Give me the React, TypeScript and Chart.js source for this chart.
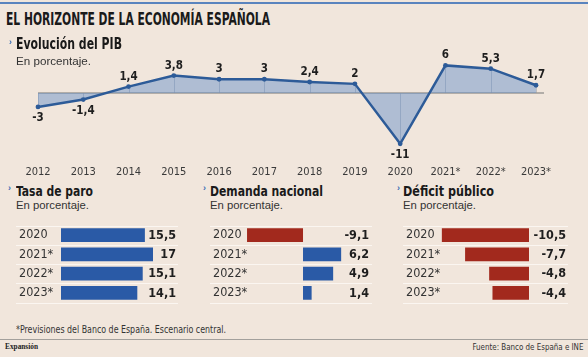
import React, { useEffect, useLayoutEffect, useRef } from "react";
import { Chart, registerables } from "chart.js";

Chart.register(...registerables);

// ---------- DATA ----------
const pibYears = ["2012", "2013", "2014", "2015", "2016", "2017", "2018", "2019", "2020", "2021*", "2022*", "2023*"];
const pibValues = [-3, -1.4, 1.4, 3.8, 3, 3, 2.4, 2, -11, 6, 5.3, 1.7];

const barYears = ["2020", "2021*", "2022*", "2023*"];
const paroValues = [15.5, 17, 15.1, 14.1];
const demandaValues = [-9.1, 6.2, 4.9, 1.4];
const deficitValues = [-10.5, -7.7, -4.8, -4.4];

// ---------- STYLE ----------
const BG = "#f1e6dc";
const NARROW = '"Liberation Sans Narrow", "DejaVu Sans Condensed", "Roboto Condensed", "Arial Narrow", sans-serif';
const SANS = '"Liberation Sans", Arial, sans-serif';
const LINE = "#2d5b98";
const FILL = "rgba(95,140,200,0.45)";
const BLUE = "#2a5aa6";
const RED = "#a2291d";
const TEXT = "#1e1e1e";
const MARK = "#3d6fb4";

const fmt = (v: number) => String(v).replace(".", ",");

type FitProps = {
  text: string;
  x: number;
  y: number;
  size: number;
  weight?: number | string;
  family?: string;
  color?: string;
  width?: number;
  align?: "left" | "right";
};

function FitText({ text, x, y, size, weight = 400, family = SANS, color = TEXT, width, align = "left" }: FitProps) {
  const ref = useRef<HTMLSpanElement>(null);
  useLayoutEffect(() => {
    const el = ref.current;
    if (!el || !width) return;
    const fit = () => {
      el.style.transform = "none";
      const w = el.getBoundingClientRect().width;
      if (w > 0) el.style.transform = `scaleX(${width / w})`;
    };
    fit();
    if ((document as any).fonts && (document as any).fonts.ready) {
      (document as any).fonts.ready.then(fit);
    }
  }, [width]);
  const style: React.CSSProperties = {
    position: "absolute",
    top: y,
    whiteSpace: "nowrap",
    fontFamily: family,
    fontSize: size,
    fontWeight: weight as any,
    lineHeight: `${size}px`,
    color,
    transformOrigin: align === "right" ? "right top" : "left top",
  };
  if (align === "right") style.right = 588 - x;
  else style.left = x;
  return (
    <span ref={ref} style={style}>
      {text}
    </span>
  );
}

function Marker({ x, y }: { x: number; y: number }) {
  return (
    <span
      style={{
        position: "absolute",
        left: x,
        top: y,
        fontFamily: SANS,
        fontWeight: 700,
        fontSize: 9,
        lineHeight: "9px",
        color: MARK,
      }}
    >
      ›
    </span>
  );
}

function PibChart() {
  const ref = useRef<HTMLCanvasElement>(null);
  useEffect(() => {
    if (!ref.current) return;
    const pibPlugin = {
      id: "pibExtras",
      beforeDatasetsDraw(chart: any) {
        const { ctx, chartArea, scales } = chart;
        const y0 = scales.y.getPixelForValue(0);
        const meta = chart.getDatasetMeta(0);
        ctx.save();
        ctx.strokeStyle = "rgba(130,140,155,0.45)";
        ctx.lineWidth = 1;
        meta.data.forEach((pt: any) => {
          ctx.beginPath();
          ctx.moveTo(Math.round(pt.x) + 0.5, pt.y);
          ctx.lineTo(Math.round(pt.x) + 0.5, y0);
          ctx.stroke();
        });
        ctx.strokeStyle = "#9d9a97";
        ctx.lineWidth = 1.5;
        ctx.beginPath();
        ctx.moveTo(chartArea.left, y0);
        ctx.lineTo(chartArea.right + 8, y0);
        ctx.stroke();
        ctx.restore();
      },
      afterDatasetsDraw(chart: any) {
        const { ctx } = chart;
        const meta = chart.getDatasetMeta(0);
        ctx.save();
        ctx.font = `bold 11.5px ${NARROW}`;
        ctx.fillStyle = TEXT;
        ctx.textAlign = "center";
        ctx.textBaseline = "middle";
        meta.data.forEach((pt: any, i: number) => {
          const v = pibValues[i];
          const y = v >= 0 ? pt.y - 10 : pt.y + 11;
          ctx.fillText(fmt(v), pt.x, y);
        });
        ctx.restore();
      },
    };
    const chart = new Chart(ref.current, {
      type: "line",
      data: {
        labels: pibYears,
        datasets: [
          {
            data: pibValues,
            borderColor: LINE,
            borderWidth: 2.5,
            backgroundColor: FILL,
            fill: "origin",
            pointRadius: 2.4,
            pointBackgroundColor: LINE,
            pointBorderWidth: 0,
            tension: 0,
          },
        ],
      },
      options: {
        responsive: false,
        animation: false,
        events: [],
        layout: { padding: { left: 38, right: 52, top: 16.2, bottom: 0 } },
        plugins: { legend: { display: false }, tooltip: { enabled: false } },
        scales: {
          x: {
            offset: false,
            grid: { display: false, drawTicks: false },
            border: { display: false },
            ticks: {
              padding: 12.6,
              font: { family: NARROW, size: 11 },
              color: "#3a3a3a",
              maxRotation: 0,
              autoSkip: false,
            },
            afterFit(scale: any) {
              scale.height = 26;
            },
          },
          y: { display: false, min: -13, max: 8 },
        },
      },
      plugins: [pibPlugin],
    } as any);
    return () => chart.destroy();
  }, []);
  return (
    <canvas
      ref={ref}
      width={588}
      height={139}
      style={{ position: "absolute", left: 0, top: 40, width: 588, height: 139 }}
    />
  );
}

type BarProps = {
  values: number[];
  left: number;
  top: number;
  width: number;
  height: number;
  min: number;
  max: number;
  padRight: number;
  axisWidth: number;
  valueInset: number;
};

function BarPanel({ values, left, top, width, height, min, max, padRight, axisWidth, valueInset }: BarProps) {
  const ref = useRef<HTMLCanvasElement>(null);
  useEffect(() => {
    if (!ref.current) return;
    const barPlugin = {
      id: "barExtras",
      beforeDatasetsDraw(chart: any) {
        const { ctx, chartArea } = chart;
        const n = barYears.length;
        const step = (chartArea.bottom - chartArea.top) / n;
        ctx.save();
        ctx.strokeStyle = "#fbf6f1";
        ctx.lineWidth = 1;
        for (let i = 0; i <= n; i++) {
          const y = Math.round(chartArea.top + i * step) + 0.5;
          ctx.beginPath();
          ctx.moveTo(0, y);
          ctx.lineTo(chart.width, y);
          ctx.stroke();
        }
        ctx.restore();
      },
      afterDatasetsDraw(chart: any) {
        const { ctx } = chart;
        const meta = chart.getDatasetMeta(0);
        ctx.save();
        ctx.font = `bold 12.5px ${NARROW}`;
        ctx.fillStyle = TEXT;
        ctx.textAlign = "right";
        ctx.textBaseline = "middle";
        meta.data.forEach((bar: any, i: number) => {
          ctx.fillText(fmt(values[i]), chart.width - valueInset, bar.y + 0.5);
        });
        ctx.restore();
      },
    };
    const chart = new Chart(ref.current, {
      type: "bar",
      data: {
        labels: barYears,
        datasets: [
          {
            data: values,
            backgroundColor: values.map((v) => (v < 0 ? RED : BLUE)),
            barPercentage: 0.72,
            categoryPercentage: 1,
            borderWidth: 0,
          },
        ],
      },
      options: {
        indexAxis: "y",
        responsive: false,
        animation: false,
        events: [],
        layout: { padding: { left: 3, right: padRight, top: 0, bottom: 0 } },
        plugins: { legend: { display: false }, tooltip: { enabled: false } },
        scales: {
          x: { display: false, min, max },
          y: {
            grid: { display: false, drawTicks: false },
            border: { display: false },
            ticks: {
              crossAlign: "far",
              padding: 0,
              font: { family: NARROW, size: 12.5 },
              color: "#333",
            },
            afterFit(scale: any) {
              scale.width = axisWidth;
              // let year labels run to their natural width (no clipping at the axis edge)
              scale._computeLabelArea = () => undefined;
            },
          },
        },
      },
      plugins: [barPlugin],
    } as any);
    return () => chart.destroy();
  }, []);
  return (
    <canvas
      ref={ref}
      width={width}
      height={height}
      style={{ position: "absolute", left, top, width, height }}
    />
  );
}

export default function App() {
  return (
    <div
      style={{
        position: "absolute",
        left: 0,
        top: 0,
        width: 588,
        height: 357,
        background: BG,
        overflow: "hidden",
      }}
    >
      <div style={{ position: "absolute", left: 0, top: 2, width: 588, height: 2, background: "#5a84be" }} />
      <FitText text="EL HORIZONTE DE LA ECONOMÍA ESPAÑOLA" x={6} y={9.9} size={18} weight={700} family={NARROW} color="#1a1a1a" width={264} />

      <PibChart />

      <Marker x={9} y={38} />
      <FitText text="Evolución del PIB" x={16} y={37.2} size={15} weight={700} family={NARROW} color="#1a1a1a" width={106} />
      <FitText text="En porcentaje." x={16} y={56} size={11} family={SANS} color="#333" width={75} />

      <Marker x={8} y={184} />
      <FitText text="Tasa de paro" x={16} y={184} size={14.5} weight={700} family={NARROW} color="#1a1a1a" width={77} />
      <FitText text="En porcentaje." x={16} y={200.4} size={11} family={SANS} color="#333" width={73} />

      <Marker x={203} y={184} />
      <FitText text="Demanda nacional" x={210} y={184} size={14.5} weight={700} family={NARROW} color="#1a1a1a" width={113} />
      <FitText text="En porcentaje." x={210} y={200.4} size={11} family={SANS} color="#333" width={73} />

      <Marker x={397} y={184} />
      <FitText text="Déficit público" x={403} y={184} size={14.5} weight={700} family={NARROW} color="#1a1a1a" width={91} />
      <FitText text="En porcentaje." x={403} y={200.4} size={11} family={SANS} color="#333" width={73} />

      <BarPanel values={paroValues} left={16} top={218} width={162} height={92} min={0} max={17} padRight={25} axisWidth={42} valueInset={2} />
      <BarPanel values={demandaValues} left={210} top={218} width={162} height={92} min={-10} max={6.5} padRight={29} axisWidth={28.5} valueInset={3} />
      <BarPanel values={deficitValues} left={403} top={218} width={165} height={92} min={-11} max={0} padRight={39} axisWidth={31.7} valueInset={2} />

      <FitText text="*Previsiones del Banco de España. Escenario central." x={16} y={324.8} size={10} family={NARROW} color="#333" width={210} />
      <div style={{ position: "absolute", left: 0, top: 339, width: 588, height: 1, background: "#a3a09c" }} />
      <FitText text="Expansión" x={5} y={342} size={9} weight={700} family='"Liberation Serif", "DejaVu Serif", serif' color="#222" width={33} />
      <FitText text="Fuente: Banco de España e INE" x={583} y={342} size={9.5} family={NARROW} color="#333" width={111} align="right" />
    </div>
  );
}
